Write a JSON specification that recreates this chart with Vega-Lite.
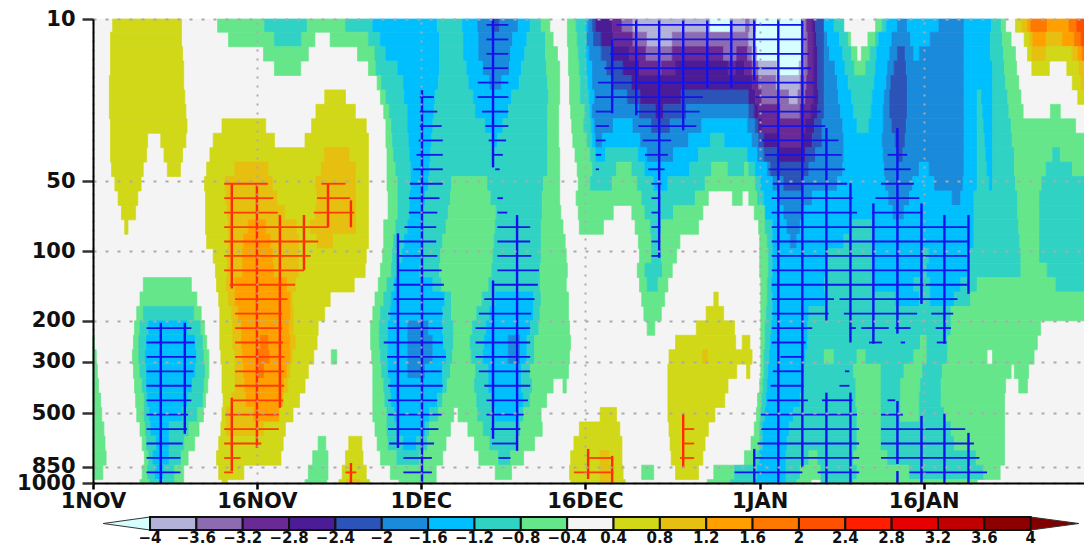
{"$schema":"https://vega.github.io/schema/vega-lite/v6.json","background":"white","padding":{"left":0,"top":8,"right":0,"bottom":0},"spacing":4,"config":{"view":{"stroke":null},"font":"DejaVu Sans"},
"datasets":{
"bands":[{"j":0,"p":10,"q":11.4,"c":10.6},{"j":1,"p":11.4,"q":13.16,"c":12.25},{"j":2,"p":13.16,"q":15.18,"c":14.13},{"j":3,"p":15.18,"q":17.52,"c":16.3},{"j":4,"p":17.52,"q":20.22,"c":18.8},{"j":5,"p":20.22,"q":23.33,"c":21.7},{"j":6,"p":23.33,"q":26.93,"c":25.07},{"j":7,"p":26.93,"q":31.08,"c":28.93},{"j":8,"p":31.08,"q":35.86,"c":33.38},{"j":9,"p":35.86,"q":41.38,"c":38.5},{"j":10,"p":41.38,"q":47.76,"c":44.45},{"j":11,"p":47.76,"q":55.11,"c":51.3},{"j":12,"p":55.11,"q":63.6,"c":59.2},{"j":13,"p":63.6,"q":73.4,"c":68.3},{"j":14,"p":73.4,"q":84.7,"c":78.85},{"j":15,"p":84.7,"q":97.7,"c":91},{"j":16,"p":97.7,"q":112.8,"c":105},{"j":17,"p":112.8,"q":130.2,"c":121.2},{"j":18,"p":130.2,"q":150.2,"c":139.8},{"j":19,"p":150.2,"q":173.3,"c":161.3},{"j":20,"p":173.3,"q":200,"c":186.2},{"j":21,"p":200,"q":230.8,"c":214.8},{"j":22,"p":230.8,"q":266.4,"c":248},{"j":23,"p":266.4,"q":307.4,"c":286},{"j":24,"p":307.4,"q":354.7,"c":330},{"j":25,"p":354.7,"q":409.4,"c":381},{"j":26,"p":409.4,"q":472.4,"c":440},{"j":27,"p":472.4,"q":545.2,"c":507.5},{"j":28,"p":545.2,"q":629.1,"c":585.6},{"j":29,"p":629.1,"q":726,"c":675.8},{"j":30,"p":726,"q":837.8,"c":780},{"j":31,"p":837.8,"q":966.8,"c":900},{"j":32,"p":966.8,"q":1000,"c":983}],
"cells":[
{"j":0,"a":1.8,"b":8.1,"v":0.6},{"j":0,"a":11.4,"b":15.7,"v":-0.6},{"j":0,"a":15.7,"b":19.6,"v":-1},{"j":0,"a":19.6,"b":23.1,"v":-0.6},{"j":0,"a":23.1,"b":25.6,"v":-1},{"j":0,"a":25.6,"b":31.5,"v":-1.4},{"j":0,"a":31.5,"b":33.8,"v":-1},{"j":0,"a":33.8,"b":35.2,"v":-1.4},{"j":0,"a":35.2,"b":36.5,"v":-1.8},{"j":0,"a":36.5,"b":37.2,"v":-2.2},{"j":0,"a":37.2,"b":38.9,"v":-1.8},{"j":0,"a":38.9,"b":40,"v":-1.4},{"j":0,"a":40,"b":41,"v":-1},{"j":0,"a":41,"b":41.8,"v":-0.6},{"j":0,"a":43.4,"b":44.2,"v":-0.6},{"j":0,"a":44.2,"b":45.1,"v":-1},{"j":0,"a":45.1,"b":45.3,"v":-1.4},{"j":0,"a":45.3,"b":45.7,"v":-1.8},{"j":0,"a":45.7,"b":46,"v":-2.2},{"j":0,"a":46,"b":47.5,"v":-2.6},{"j":0,"a":47.5,"b":48.4,"v":-3},{"j":0,"a":48.4,"b":49.4,"v":-3.4},{"j":0,"a":49.4,"b":56.5,"v":-3.8},{"j":0,"a":56.5,"b":58.3,"v":-4.2},{"j":0,"a":58.3,"b":59.7,"v":-3.8},{"j":0,"a":59.7,"b":60.1,"v":-3.4},{"j":0,"a":60.1,"b":60.7,"v":-3.8},{"j":0,"a":60.7,"b":64.8,"v":-4.2},{"j":0,"a":64.8,"b":65.1,"v":-3.8},{"j":0,"a":65.1,"b":65.3,"v":-3.4},{"j":0,"a":65.3,"b":65.8,"v":-3},{"j":0,"a":65.8,"b":66.1,"v":-2.6},{"j":0,"a":66.1,"b":66.9,"v":-2.2},{"j":0,"a":66.9,"b":67.8,"v":-1.4},{"j":0,"a":67.8,"b":68.7,"v":-1},{"j":0,"a":71.6,"b":72.2,"v":-0.6},{"j":0,"a":72.2,"b":72.6,"v":-1},{"j":0,"a":72.6,"b":73.6,"v":-1.4},{"j":0,"a":73.6,"b":74.5,"v":-1.8},{"j":0,"a":74.5,"b":77.4,"v":-1.4},{"j":0,"a":77.4,"b":79.7,"v":-1.8},{"j":0,"a":79.7,"b":82.2,"v":-1.4},{"j":0,"a":82.2,"b":83.1,"v":-1},{"j":0,"a":83.1,"b":83.5,"v":-0.6},{"j":0,"a":84.4,"b":85,"v":0.6},{"j":0,"a":85,"b":85.5,"v":1},{"j":0,"a":85.5,"b":85.8,"v":1.4},{"j":0,"a":85.8,"b":87.3,"v":1.8},{"j":0,"a":87.3,"b":89.3,"v":1.4},{"j":0,"a":89.3,"b":90,"v":1.8},{"j":0,"a":90,"b":90.67,"v":2.2},
{"j":1,"a":1.6,"b":8.1,"v":0.6},{"j":1,"a":12.4,"b":16.6,"v":-0.6},{"j":1,"a":16.6,"b":19.1,"v":-1},{"j":1,"a":19.1,"b":20.3,"v":-0.6},{"j":1,"a":21.7,"b":25.2,"v":-0.6},{"j":1,"a":25.2,"b":26.3,"v":-1},{"j":1,"a":26.3,"b":31.7,"v":-1.4},{"j":1,"a":31.7,"b":33.9,"v":-1},{"j":1,"a":33.9,"b":35.3,"v":-1.4},{"j":1,"a":35.3,"b":38.4,"v":-1.8},{"j":1,"a":38.4,"b":39.7,"v":-1.4},{"j":1,"a":39.7,"b":41.4,"v":-1},{"j":1,"a":41.4,"b":42.1,"v":-0.6},{"j":1,"a":43.4,"b":44.3,"v":-0.6},{"j":1,"a":44.3,"b":45.2,"v":-1},{"j":1,"a":45.2,"b":45.8,"v":-1.8},{"j":1,"a":45.8,"b":46.5,"v":-2.2},{"j":1,"a":46.5,"b":47.6,"v":-2.6},{"j":1,"a":47.6,"b":49.4,"v":-3},{"j":1,"a":49.4,"b":50.7,"v":-3.4},{"j":1,"a":50.7,"b":53,"v":-3.8},{"j":1,"a":53,"b":60,"v":-3.4},{"j":1,"a":60,"b":60.6,"v":-3.8},{"j":1,"a":60.6,"b":64.8,"v":-4.2},{"j":1,"a":64.8,"b":65.1,"v":-3.8},{"j":1,"a":65.1,"b":65.4,"v":-3.4},{"j":1,"a":65.4,"b":65.9,"v":-3},{"j":1,"a":65.9,"b":66.2,"v":-2.6},{"j":1,"a":66.2,"b":66.9,"v":-2.2},{"j":1,"a":66.9,"b":67.2,"v":-1.8},{"j":1,"a":67.2,"b":68.3,"v":-1.4},{"j":1,"a":68.3,"b":69.1,"v":-1},{"j":1,"a":69.1,"b":69.3,"v":-0.6},{"j":1,"a":70.9,"b":71.6,"v":-0.6},{"j":1,"a":71.6,"b":71.9,"v":-1},{"j":1,"a":71.9,"b":73.1,"v":-1.4},{"j":1,"a":73.1,"b":74.8,"v":-1.8},{"j":1,"a":74.8,"b":76.6,"v":-1.4},{"j":1,"a":76.6,"b":79.7,"v":-1.8},{"j":1,"a":79.7,"b":82.1,"v":-1.4},{"j":1,"a":82.1,"b":83.2,"v":-1},{"j":1,"a":83.2,"b":84,"v":-0.6},{"j":1,"a":85.2,"b":85.7,"v":0.6},{"j":1,"a":85.7,"b":86,"v":1},{"j":1,"a":86,"b":87.2,"v":1.4},{"j":1,"a":87.2,"b":88.7,"v":1},{"j":1,"a":88.7,"b":89.8,"v":1.4},{"j":1,"a":89.8,"b":90.4,"v":1.8},{"j":1,"a":90.4,"b":90.67,"v":2.2},
{"j":2,"a":1.6,"b":8.2,"v":0.6},{"j":2,"a":15.6,"b":19.7,"v":-0.6},{"j":2,"a":24.2,"b":25.8,"v":-0.6},{"j":2,"a":25.8,"b":26.8,"v":-1},{"j":2,"a":26.8,"b":31.7,"v":-1.4},{"j":2,"a":31.7,"b":33.9,"v":-1},{"j":2,"a":33.9,"b":35.3,"v":-1.4},{"j":2,"a":35.3,"b":38.2,"v":-1.8},{"j":2,"a":38.2,"b":39.5,"v":-1.4},{"j":2,"a":39.5,"b":41.4,"v":-1},{"j":2,"a":41.4,"b":42.5,"v":-0.6},{"j":2,"a":43.5,"b":44.4,"v":-0.6},{"j":2,"a":44.4,"b":45.1,"v":-1},{"j":2,"a":45.1,"b":45.4,"v":-1.4},{"j":2,"a":45.4,"b":46.5,"v":-1.8},{"j":2,"a":46.5,"b":47.5,"v":-2.2},{"j":2,"a":47.5,"b":49.1,"v":-2.6},{"j":2,"a":49.1,"b":50.6,"v":-3},{"j":2,"a":50.6,"b":53,"v":-3.4},{"j":2,"a":53,"b":57.7,"v":-3},{"j":2,"a":57.7,"b":58.9,"v":-3.4},{"j":2,"a":58.9,"b":59.9,"v":-3},{"j":2,"a":59.9,"b":60.3,"v":-3.4},{"j":2,"a":60.3,"b":60.8,"v":-3.8},{"j":2,"a":60.8,"b":64.8,"v":-4.2},{"j":2,"a":64.8,"b":65.1,"v":-3.8},{"j":2,"a":65.1,"b":65.4,"v":-3.4},{"j":2,"a":65.4,"b":65.9,"v":-3},{"j":2,"a":65.9,"b":66.3,"v":-2.6},{"j":2,"a":66.3,"b":66.9,"v":-2.2},{"j":2,"a":66.9,"b":67.4,"v":-1.8},{"j":2,"a":67.4,"b":68.6,"v":-1.4},{"j":2,"a":68.6,"b":69.4,"v":-1},{"j":2,"a":69.4,"b":69.9,"v":-0.6},{"j":2,"a":70.3,"b":71.1,"v":-0.6},{"j":2,"a":71.1,"b":71.7,"v":-1},{"j":2,"a":71.7,"b":72.9,"v":-1.4},{"j":2,"a":72.9,"b":73.6,"v":-1.8},{"j":2,"a":73.6,"b":74.3,"v":-2.2},{"j":2,"a":74.3,"b":75.1,"v":-1.8},{"j":2,"a":75.1,"b":75.6,"v":-1.4},{"j":2,"a":75.6,"b":79.7,"v":-1.8},{"j":2,"a":79.7,"b":82.1,"v":-1.4},{"j":2,"a":82.1,"b":83.3,"v":-1},{"j":2,"a":83.3,"b":84.4,"v":-0.6},{"j":2,"a":85.5,"b":85.9,"v":0.6},{"j":2,"a":85.9,"b":87.2,"v":1},{"j":2,"a":87.2,"b":89.6,"v":0.6},{"j":2,"a":89.6,"b":90.1,"v":1},{"j":2,"a":90.1,"b":90.5,"v":1.4},{"j":2,"a":90.5,"b":90.67,"v":1.8},
{"j":3,"a":1.6,"b":8.3,"v":0.6},{"j":3,"a":16.6,"b":19,"v":-0.6},{"j":3,"a":25.2,"b":25.9,"v":-0.6},{"j":3,"a":25.9,"b":27.9,"v":-1},{"j":3,"a":27.9,"b":31.7,"v":-1.4},{"j":3,"a":31.7,"b":34.2,"v":-1},{"j":3,"a":34.2,"b":35.7,"v":-1.4},{"j":3,"a":35.7,"b":38.1,"v":-1.8},{"j":3,"a":38.1,"b":39.2,"v":-1.4},{"j":3,"a":39.2,"b":41.5,"v":-1},{"j":3,"a":41.5,"b":42.7,"v":-0.6},{"j":3,"a":43.5,"b":44.5,"v":-0.6},{"j":3,"a":44.5,"b":45.2,"v":-1},{"j":3,"a":45.2,"b":45.7,"v":-1.4},{"j":3,"a":45.7,"b":47,"v":-1.8},{"j":3,"a":47,"b":48.5,"v":-2.2},{"j":3,"a":48.5,"b":50,"v":-2.6},{"j":3,"a":50,"b":51.8,"v":-3},{"j":3,"a":51.8,"b":52,"v":-3.4},{"j":3,"a":52,"b":53.3,"v":-3},{"j":3,"a":53.3,"b":58.1,"v":-2.6},{"j":3,"a":58.1,"b":58.8,"v":-3},{"j":3,"a":58.8,"b":59.6,"v":-2.6},{"j":3,"a":59.6,"b":60.3,"v":-3},{"j":3,"a":60.3,"b":60.9,"v":-3.4},{"j":3,"a":60.9,"b":62.6,"v":-3.8},{"j":3,"a":62.6,"b":64.6,"v":-4.2},{"j":3,"a":64.6,"b":65.1,"v":-3.8},{"j":3,"a":65.1,"b":65.4,"v":-3.4},{"j":3,"a":65.4,"b":65.9,"v":-3},{"j":3,"a":65.9,"b":66.3,"v":-2.6},{"j":3,"a":66.3,"b":66.9,"v":-2.2},{"j":3,"a":66.9,"b":67.9,"v":-1.8},{"j":3,"a":67.9,"b":68.8,"v":-1.4},{"j":3,"a":68.8,"b":69.7,"v":-1},{"j":3,"a":69.7,"b":70.7,"v":-0.6},{"j":3,"a":70.7,"b":71.6,"v":-1},{"j":3,"a":71.6,"b":72.7,"v":-1.4},{"j":3,"a":72.7,"b":73.3,"v":-1.8},{"j":3,"a":73.3,"b":74.4,"v":-2.2},{"j":3,"a":74.4,"b":79.7,"v":-1.8},{"j":3,"a":79.7,"b":82.3,"v":-1.4},{"j":3,"a":82.3,"b":83.4,"v":-1},{"j":3,"a":83.4,"b":84.5,"v":-0.6},{"j":3,"a":85.9,"b":87.5,"v":0.6},{"j":3,"a":89.1,"b":90.2,"v":0.6},{"j":3,"a":90.2,"b":90.67,"v":1},
{"j":4,"a":1.5,"b":8.3,"v":0.6},{"j":4,"a":26,"b":26.4,"v":-0.6},{"j":4,"a":26.4,"b":28.4,"v":-1},{"j":4,"a":28.4,"b":31.6,"v":-1.4},{"j":4,"a":31.6,"b":34.4,"v":-1},{"j":4,"a":34.4,"b":36.3,"v":-1.4},{"j":4,"a":36.3,"b":37.4,"v":-1.8},{"j":4,"a":37.4,"b":39,"v":-1.4},{"j":4,"a":39,"b":41.6,"v":-1},{"j":4,"a":41.6,"b":42.7,"v":-0.6},{"j":4,"a":43.6,"b":44.6,"v":-0.6},{"j":4,"a":44.6,"b":45.3,"v":-1},{"j":4,"a":45.3,"b":45.7,"v":-1.4},{"j":4,"a":45.7,"b":47.5,"v":-1.8},{"j":4,"a":47.5,"b":49.3,"v":-2.2},{"j":4,"a":49.3,"b":60.3,"v":-2.6},{"j":4,"a":60.3,"b":60.9,"v":-3},{"j":4,"a":60.9,"b":62.5,"v":-3.4},{"j":4,"a":62.5,"b":64.7,"v":-3.8},{"j":4,"a":64.7,"b":65.3,"v":-3.4},{"j":4,"a":65.3,"b":65.9,"v":-3},{"j":4,"a":65.9,"b":66.3,"v":-2.6},{"j":4,"a":66.3,"b":66.9,"v":-2.2},{"j":4,"a":66.9,"b":68.1,"v":-1.8},{"j":4,"a":68.1,"b":69.1,"v":-1.4},{"j":4,"a":69.1,"b":71.5,"v":-1},{"j":4,"a":71.5,"b":72.6,"v":-1.4},{"j":4,"a":72.6,"b":73,"v":-1.8},{"j":4,"a":73,"b":74.5,"v":-2.2},{"j":4,"a":74.5,"b":79.7,"v":-1.8},{"j":4,"a":79.7,"b":82.3,"v":-1.4},{"j":4,"a":82.3,"b":83.5,"v":-1},{"j":4,"a":83.5,"b":84.7,"v":-0.6},{"j":4,"a":89.6,"b":90.4,"v":0.6},{"j":4,"a":90.4,"b":90.67,"v":1},
{"j":5,"a":1.5,"b":8.4,"v":0.6},{"j":5,"a":21.2,"b":23.1,"v":0.6},{"j":5,"a":26.3,"b":26.8,"v":-0.6},{"j":5,"a":26.8,"b":28.5,"v":-1},{"j":5,"a":28.5,"b":31.3,"v":-1.4},{"j":5,"a":31.3,"b":34.8,"v":-1},{"j":5,"a":34.8,"b":38.3,"v":-1.4},{"j":5,"a":38.3,"b":41.7,"v":-1},{"j":5,"a":41.7,"b":42.7,"v":-0.6},{"j":5,"a":43.6,"b":44.6,"v":-0.6},{"j":5,"a":44.6,"b":45.4,"v":-1},{"j":5,"a":45.4,"b":45.9,"v":-1.4},{"j":5,"a":45.9,"b":48.9,"v":-1.8},{"j":5,"a":48.9,"b":50.1,"v":-2.2},{"j":5,"a":50.1,"b":53.8,"v":-2.6},{"j":5,"a":53.8,"b":60,"v":-2.2},{"j":5,"a":60,"b":60.6,"v":-2.6},{"j":5,"a":60.6,"b":61.2,"v":-3},{"j":5,"a":61.2,"b":63.7,"v":-3.4},{"j":5,"a":63.7,"b":64.5,"v":-3.8},{"j":5,"a":64.5,"b":65.2,"v":-3.4},{"j":5,"a":65.2,"b":65.9,"v":-3},{"j":5,"a":65.9,"b":66.4,"v":-2.6},{"j":5,"a":66.4,"b":66.9,"v":-2.2},{"j":5,"a":66.9,"b":68.2,"v":-1.8},{"j":5,"a":68.2,"b":69.4,"v":-1.4},{"j":5,"a":69.4,"b":71.3,"v":-1},{"j":5,"a":71.3,"b":72.4,"v":-1.4},{"j":5,"a":72.4,"b":72.9,"v":-1.8},{"j":5,"a":72.9,"b":74.5,"v":-2.2},{"j":5,"a":74.5,"b":79.7,"v":-1.8},{"j":5,"a":79.7,"b":80.9,"v":-1.4},{"j":5,"a":80.9,"b":81.3,"v":-1},{"j":5,"a":81.3,"b":82.3,"v":-1.4},{"j":5,"a":82.3,"b":83.7,"v":-1},{"j":5,"a":83.7,"b":84.9,"v":-0.6},{"j":5,"a":90.1,"b":90.67,"v":0.6},
{"j":6,"a":1.5,"b":8.5,"v":0.6},{"j":6,"a":20.4,"b":24,"v":0.6},{"j":6,"a":26.6,"b":27.1,"v":-0.6},{"j":6,"a":27.1,"b":28.8,"v":-1},{"j":6,"a":28.8,"b":31.2,"v":-1.4},{"j":6,"a":31.2,"b":35,"v":-1},{"j":6,"a":35,"b":38,"v":-1.4},{"j":6,"a":38,"b":41.6,"v":-1},{"j":6,"a":41.6,"b":42.6,"v":-0.6},{"j":6,"a":43.7,"b":45,"v":-0.6},{"j":6,"a":45,"b":45.5,"v":-1},{"j":6,"a":45.5,"b":45.7,"v":-1.4},{"j":6,"a":45.7,"b":50,"v":-1.8},{"j":6,"a":50,"b":51.5,"v":-2.2},{"j":6,"a":51.5,"b":52.2,"v":-2.6},{"j":6,"a":52.2,"b":54.3,"v":-2.2},{"j":6,"a":54.3,"b":60,"v":-1.8},{"j":6,"a":60,"b":60.5,"v":-2.2},{"j":6,"a":60.5,"b":60.9,"v":-2.6},{"j":6,"a":60.9,"b":62.9,"v":-3},{"j":6,"a":62.9,"b":64.7,"v":-3.4},{"j":6,"a":64.7,"b":65.7,"v":-3},{"j":6,"a":65.7,"b":66.3,"v":-2.6},{"j":6,"a":66.3,"b":66.9,"v":-2.2},{"j":6,"a":66.9,"b":68.4,"v":-1.8},{"j":6,"a":68.4,"b":69.6,"v":-1.4},{"j":6,"a":69.6,"b":71.2,"v":-1},{"j":6,"a":71.2,"b":72.3,"v":-1.4},{"j":6,"a":72.3,"b":72.9,"v":-1.8},{"j":6,"a":72.9,"b":74.5,"v":-2.2},{"j":6,"a":74.5,"b":79.7,"v":-1.8},{"j":6,"a":79.7,"b":80.9,"v":-1.4},{"j":6,"a":80.9,"b":81.4,"v":-1},{"j":6,"a":81.4,"b":82.3,"v":-1.4},{"j":6,"a":82.3,"b":83.8,"v":-1},{"j":6,"a":83.8,"b":85.1,"v":-0.6},{"j":6,"a":87.6,"b":88.5,"v":-0.6},
{"j":7,"a":1.6,"b":8.6,"v":0.6},{"j":7,"a":11.8,"b":15.8,"v":0.6},{"j":7,"a":20,"b":25,"v":0.6},{"j":7,"a":26.8,"b":27.3,"v":-0.6},{"j":7,"a":27.3,"b":28.8,"v":-1},{"j":7,"a":28.8,"b":31.1,"v":-1.4},{"j":7,"a":31.1,"b":35.9,"v":-1},{"j":7,"a":35.9,"b":37.5,"v":-1.4},{"j":7,"a":37.5,"b":41.6,"v":-1},{"j":7,"a":41.6,"b":42.6,"v":-0.6},{"j":7,"a":43.8,"b":44.9,"v":-0.6},{"j":7,"a":44.9,"b":45.6,"v":-1},{"j":7,"a":45.6,"b":45.9,"v":-1.4},{"j":7,"a":45.9,"b":47.6,"v":-1.8},{"j":7,"a":47.6,"b":49.4,"v":-1.4},{"j":7,"a":49.4,"b":51.1,"v":-1.8},{"j":7,"a":51.1,"b":52.8,"v":-2.2},{"j":7,"a":52.8,"b":55.7,"v":-1.8},{"j":7,"a":55.7,"b":59,"v":-1.4},{"j":7,"a":59,"b":59.9,"v":-1.4},{"j":7,"a":59.9,"b":60.6,"v":-1.8},{"j":7,"a":60.6,"b":60.9,"v":-2.2},{"j":7,"a":60.9,"b":61.2,"v":-2.6},{"j":7,"a":61.2,"b":65.2,"v":-3},{"j":7,"a":65.2,"b":66,"v":-2.6},{"j":7,"a":66,"b":66.7,"v":-2.2},{"j":7,"a":66.7,"b":68.6,"v":-1.8},{"j":7,"a":68.6,"b":69.9,"v":-1.4},{"j":7,"a":69.9,"b":71,"v":-1},{"j":7,"a":71,"b":72.3,"v":-1.4},{"j":7,"a":72.3,"b":73.1,"v":-1.8},{"j":7,"a":73.1,"b":74.4,"v":-2.2},{"j":7,"a":74.4,"b":79.7,"v":-1.8},{"j":7,"a":79.7,"b":80.9,"v":-1.4},{"j":7,"a":80.9,"b":81.5,"v":-1},{"j":7,"a":81.5,"b":82.3,"v":-1.4},{"j":7,"a":82.3,"b":84,"v":-1},{"j":7,"a":84,"b":89.9,"v":-0.6},
{"j":8,"a":1.6,"b":5,"v":0.6},{"j":8,"a":6.2,"b":8.5,"v":0.6},{"j":8,"a":11,"b":16.6,"v":0.6},{"j":8,"a":19.4,"b":25.2,"v":0.6},{"j":8,"a":26.8,"b":27.4,"v":-0.6},{"j":8,"a":27.4,"b":28.9,"v":-1},{"j":8,"a":28.9,"b":31,"v":-1.4},{"j":8,"a":31,"b":36.5,"v":-1},{"j":8,"a":36.5,"b":37,"v":-1.4},{"j":8,"a":37,"b":41.6,"v":-1},{"j":8,"a":41.6,"b":42.6,"v":-0.6},{"j":8,"a":43.9,"b":45.2,"v":-0.6},{"j":8,"a":45.2,"b":45.7,"v":-1},{"j":8,"a":45.7,"b":46,"v":-1.4},{"j":8,"a":46,"b":46.6,"v":-1.8},{"j":8,"a":46.6,"b":50.1,"v":-1.4},{"j":8,"a":50.1,"b":54.5,"v":-1.8},{"j":8,"a":54.5,"b":56.5,"v":-1.4},{"j":8,"a":56.5,"b":57.8,"v":-1},{"j":8,"a":57.8,"b":60.3,"v":-1.4},{"j":8,"a":60.3,"b":60.9,"v":-1.8},{"j":8,"a":60.9,"b":61.4,"v":-2.2},{"j":8,"a":61.4,"b":62.6,"v":-2.6},{"j":8,"a":62.6,"b":64.9,"v":-3},{"j":8,"a":64.9,"b":65.8,"v":-2.6},{"j":8,"a":65.8,"b":66.7,"v":-2.2},{"j":8,"a":66.7,"b":68.7,"v":-1.8},{"j":8,"a":68.7,"b":72.2,"v":-1.4},{"j":8,"a":72.2,"b":73.4,"v":-1.8},{"j":8,"a":73.4,"b":74.3,"v":-2.2},{"j":8,"a":74.3,"b":79.7,"v":-1.8},{"j":8,"a":79.7,"b":80.9,"v":-1.4},{"j":8,"a":80.9,"b":81.6,"v":-1},{"j":8,"a":81.6,"b":82.3,"v":-1.4},{"j":8,"a":82.3,"b":84.1,"v":-1},{"j":8,"a":84.1,"b":90.67,"v":-0.6},
{"j":9,"a":1.6,"b":4.9,"v":0.6},{"j":9,"a":6.5,"b":8.2,"v":0.6},{"j":9,"a":10.7,"b":25.2,"v":0.6},{"j":9,"a":21.2,"b":23.4,"v":1},{"j":9,"a":26.9,"b":27.5,"v":-0.6},{"j":9,"a":27.5,"b":29,"v":-1},{"j":9,"a":29,"b":30.9,"v":-1.4},{"j":9,"a":30.9,"b":41.6,"v":-1},{"j":9,"a":41.6,"b":42.7,"v":-0.6},{"j":9,"a":44.1,"b":45.5,"v":-0.6},{"j":9,"a":45.5,"b":46,"v":-1},{"j":9,"a":46,"b":46.9,"v":-1.4},{"j":9,"a":46.9,"b":49.9,"v":-1},{"j":9,"a":49.9,"b":50.7,"v":-1.4},{"j":9,"a":50.7,"b":53.1,"v":-1.8},{"j":9,"a":53.1,"b":55.4,"v":-1.4},{"j":9,"a":55.4,"b":59.9,"v":-1},{"j":9,"a":59.9,"b":60.8,"v":-1.4},{"j":9,"a":60.8,"b":61.4,"v":-1.8},{"j":9,"a":61.4,"b":62.8,"v":-2.2},{"j":9,"a":62.8,"b":65.2,"v":-2.6},{"j":9,"a":65.2,"b":66.1,"v":-2.2},{"j":9,"a":66.1,"b":68.7,"v":-1.8},{"j":9,"a":68.7,"b":72.3,"v":-1.4},{"j":9,"a":72.3,"b":73.7,"v":-1.8},{"j":9,"a":73.7,"b":74.1,"v":-2.2},{"j":9,"a":74.1,"b":79.7,"v":-1.8},{"j":9,"a":79.7,"b":80.9,"v":-1.4},{"j":9,"a":80.9,"b":81.7,"v":-1},{"j":9,"a":81.7,"b":82.3,"v":-1.4},{"j":9,"a":82.3,"b":84.3,"v":-1},{"j":9,"a":84.3,"b":87.8,"v":-0.6},{"j":9,"a":87.8,"b":88.5,"v":-1},{"j":9,"a":88.5,"b":90.67,"v":-0.6},
{"j":10,"a":1.7,"b":4.6,"v":0.6},{"j":10,"a":6.8,"b":8,"v":0.6},{"j":10,"a":10.4,"b":25.2,"v":0.6},{"j":10,"a":13,"b":16,"v":1},{"j":10,"a":20.9,"b":24,"v":1},{"j":10,"a":26.9,"b":27.7,"v":-0.6},{"j":10,"a":27.7,"b":29.1,"v":-1},{"j":10,"a":29.1,"b":30.8,"v":-1.4},{"j":10,"a":30.8,"b":41.6,"v":-1},{"j":10,"a":41.6,"b":42.7,"v":-0.6},{"j":10,"a":44.3,"b":45.7,"v":-0.6},{"j":10,"a":45.7,"b":47.9,"v":-1},{"j":10,"a":47.9,"b":49.3,"v":-0.6},{"j":10,"a":49.3,"b":50.5,"v":-1},{"j":10,"a":50.5,"b":54.6,"v":-1.4},{"j":10,"a":54.6,"b":56.6,"v":-1},{"j":10,"a":56.6,"b":58.1,"v":-0.6},{"j":10,"a":58.1,"b":59.6,"v":-1},{"j":10,"a":59.6,"b":60,"v":-0.6},{"j":10,"a":60,"b":60.6,"v":-1},{"j":10,"a":60.6,"b":61.7,"v":-1.4},{"j":10,"a":61.7,"b":62,"v":-1.8},{"j":10,"a":62,"b":65.5,"v":-2.2},{"j":10,"a":65.5,"b":68.6,"v":-1.8},{"j":10,"a":68.6,"b":72.4,"v":-1.4},{"j":10,"a":72.4,"b":75.6,"v":-1.8},{"j":10,"a":75.6,"b":76.5,"v":-1.4},{"j":10,"a":76.5,"b":79.7,"v":-1.8},{"j":10,"a":79.7,"b":80.9,"v":-1.4},{"j":10,"a":80.9,"b":81.8,"v":-1},{"j":10,"a":81.8,"b":82.3,"v":-1.4},{"j":10,"a":82.3,"b":84.3,"v":-1},{"j":10,"a":84.3,"b":87.2,"v":-0.6},{"j":10,"a":87.2,"b":89.6,"v":-1},{"j":10,"a":89.6,"b":90.67,"v":-0.6},
{"j":11,"a":2,"b":4.4,"v":0.6},{"j":11,"a":10.2,"b":25.2,"v":0.6},{"j":11,"a":12.1,"b":16.4,"v":1},{"j":11,"a":20.4,"b":24,"v":1},{"j":11,"a":26.9,"b":27.9,"v":-0.6},{"j":11,"a":27.9,"b":29.1,"v":-1},{"j":11,"a":29.1,"b":30.7,"v":-1.4},{"j":11,"a":30.7,"b":32.8,"v":-1},{"j":11,"a":32.8,"b":36.1,"v":-0.6},{"j":11,"a":36.1,"b":41.2,"v":-1},{"j":11,"a":41.2,"b":42.7,"v":-0.6},{"j":11,"a":44.4,"b":45.5,"v":-0.6},{"j":11,"a":45.5,"b":47.5,"v":-1},{"j":11,"a":47.5,"b":49.8,"v":-0.6},{"j":11,"a":49.8,"b":51.3,"v":-1},{"j":11,"a":51.3,"b":52.6,"v":-1.4},{"j":11,"a":52.6,"b":56,"v":-1},{"j":11,"a":56,"b":60.6,"v":-0.6},{"j":11,"a":60.6,"b":61.1,"v":-1},{"j":11,"a":61.1,"b":62.2,"v":-1.4},{"j":11,"a":62.2,"b":63.2,"v":-1.8},{"j":11,"a":63.2,"b":64.9,"v":-2.2},{"j":11,"a":64.9,"b":68.1,"v":-1.8},{"j":11,"a":68.1,"b":72.5,"v":-1.4},{"j":11,"a":72.5,"b":75,"v":-1.8},{"j":11,"a":75,"b":77,"v":-1.4},{"j":11,"a":77,"b":79.6,"v":-1.8},{"j":11,"a":79.6,"b":80.9,"v":-1.4},{"j":11,"a":80.9,"b":82,"v":-1},{"j":11,"a":82,"b":82.3,"v":-1.4},{"j":11,"a":82.3,"b":84.4,"v":-1},{"j":11,"a":84.4,"b":86.8,"v":-0.6},{"j":11,"a":86.8,"b":90.67,"v":-1},
{"j":12,"a":2.3,"b":4.1,"v":0.6},{"j":12,"a":10.3,"b":25.2,"v":0.6},{"j":12,"a":12.2,"b":16.8,"v":1},{"j":12,"a":20.5,"b":24,"v":1},{"j":12,"a":27,"b":27.9,"v":-0.6},{"j":12,"a":27.9,"b":29,"v":-1},{"j":12,"a":29,"b":30.4,"v":-1.4},{"j":12,"a":30.4,"b":32.7,"v":-1},{"j":12,"a":32.7,"b":36.4,"v":-0.6},{"j":12,"a":36.4,"b":41.1,"v":-1},{"j":12,"a":41.1,"b":42.7,"v":-0.6},{"j":12,"a":44.2,"b":50.2,"v":-0.6},{"j":12,"a":50.2,"b":55.1,"v":-1},{"j":12,"a":55.1,"b":56.3,"v":-0.6},{"j":12,"a":58.5,"b":59.4,"v":-0.6},{"j":12,"a":60,"b":60.8,"v":-0.6},{"j":12,"a":60.8,"b":61.4,"v":-1},{"j":12,"a":61.4,"b":62.8,"v":-1.4},{"j":12,"a":62.8,"b":65.8,"v":-1.8},{"j":12,"a":65.8,"b":72.8,"v":-1.4},{"j":12,"a":72.8,"b":74.7,"v":-1.8},{"j":12,"a":74.7,"b":78.6,"v":-1.4},{"j":12,"a":78.6,"b":79.4,"v":-1.8},{"j":12,"a":79.4,"b":80.6,"v":-1.4},{"j":12,"a":80.6,"b":84.6,"v":-1},{"j":12,"a":84.6,"b":86.6,"v":-0.6},{"j":12,"a":86.6,"b":90.67,"v":-1},
{"j":13,"a":2.6,"b":3.9,"v":0.6},{"j":13,"a":10.3,"b":25.2,"v":0.6},{"j":13,"a":12.3,"b":17.5,"v":1},{"j":13,"a":20.4,"b":24,"v":1},{"j":13,"a":27,"b":27.9,"v":-0.6},{"j":13,"a":27.9,"b":29,"v":-1},{"j":13,"a":29,"b":30.2,"v":-1.4},{"j":13,"a":30.2,"b":32.5,"v":-1},{"j":13,"a":32.5,"b":36.9,"v":-0.6},{"j":13,"a":36.9,"b":41.1,"v":-1},{"j":13,"a":41.1,"b":42.8,"v":-0.6},{"j":13,"a":44.4,"b":47.6,"v":-0.6},{"j":13,"a":49.3,"b":50.5,"v":-0.6},{"j":13,"a":50.5,"b":53.1,"v":-1},{"j":13,"a":53.1,"b":55.8,"v":-0.6},{"j":13,"a":60.5,"b":61.5,"v":-0.6},{"j":13,"a":61.5,"b":63.2,"v":-1.4},{"j":13,"a":63.2,"b":65,"v":-1.8},{"j":13,"a":65,"b":73.2,"v":-1.4},{"j":13,"a":73.2,"b":74.2,"v":-1.8},{"j":13,"a":74.2,"b":80.6,"v":-1.4},{"j":13,"a":80.6,"b":84.6,"v":-1},{"j":13,"a":84.6,"b":86.6,"v":-0.6},{"j":13,"a":86.6,"b":90.67,"v":-1},
{"j":14,"a":2.9,"b":3.2,"v":0.6},{"j":14,"a":10.3,"b":25.2,"v":0.6},{"j":14,"a":12.4,"b":18.6,"v":1},{"j":14,"a":14.2,"b":15.8,"v":1.4},{"j":14,"a":19.9,"b":24,"v":1},{"j":14,"a":26.6,"b":27.7,"v":-0.6},{"j":14,"a":27.7,"b":28.8,"v":-1},{"j":14,"a":28.8,"b":30.2,"v":-1.4},{"j":14,"a":30.2,"b":32.3,"v":-1},{"j":14,"a":32.3,"b":36.8,"v":-0.6},{"j":14,"a":36.8,"b":41,"v":-1},{"j":14,"a":41,"b":43,"v":-0.6},{"j":14,"a":44.5,"b":46.7,"v":-0.6},{"j":14,"a":49.6,"b":51,"v":-0.6},{"j":14,"a":51,"b":52,"v":-1},{"j":14,"a":52,"b":55.4,"v":-0.6},{"j":14,"a":60.9,"b":61.5,"v":-0.6},{"j":14,"a":61.5,"b":62.2,"v":-1},{"j":14,"a":62.2,"b":63.5,"v":-1.4},{"j":14,"a":63.5,"b":64.7,"v":-1.8},{"j":14,"a":64.7,"b":69.3,"v":-1.4},{"j":14,"a":69.3,"b":71.3,"v":-1},{"j":14,"a":71.3,"b":80.6,"v":-1.4},{"j":14,"a":80.6,"b":84.7,"v":-1},{"j":14,"a":84.7,"b":86.6,"v":-0.6},{"j":14,"a":86.6,"b":90.67,"v":-1},
{"j":15,"a":10.4,"b":25.2,"v":0.6},{"j":15,"a":12.4,"b":18.8,"v":1},{"j":15,"a":13.8,"b":16.2,"v":1.4},{"j":15,"a":20.5,"b":21.9,"v":1},{"j":15,"a":26.6,"b":27.5,"v":-0.6},{"j":15,"a":27.5,"b":28.5,"v":-1},{"j":15,"a":28.5,"b":30.1,"v":-1.4},{"j":15,"a":30.1,"b":32,"v":-1},{"j":15,"a":32,"b":36.7,"v":-0.6},{"j":15,"a":36.7,"b":41,"v":-1},{"j":15,"a":41,"b":43.2,"v":-0.6},{"j":15,"a":49.9,"b":51.1,"v":-0.6},{"j":15,"a":51.1,"b":51.9,"v":-1},{"j":15,"a":51.9,"b":53.7,"v":-0.6},{"j":15,"a":61,"b":61.7,"v":-0.6},{"j":15,"a":61.7,"b":62.2,"v":-1},{"j":15,"a":62.2,"b":63.8,"v":-1.4},{"j":15,"a":63.8,"b":64.4,"v":-1.8},{"j":15,"a":64.4,"b":68.7,"v":-1.4},{"j":15,"a":68.7,"b":71.3,"v":-1},{"j":15,"a":71.3,"b":80.6,"v":-1.4},{"j":15,"a":80.6,"b":84.8,"v":-1},{"j":15,"a":84.8,"b":86.6,"v":-0.6},{"j":15,"a":86.6,"b":90.67,"v":-1},
{"j":16,"a":11,"b":25,"v":0.6},{"j":16,"a":12.3,"b":18.8,"v":1},{"j":16,"a":13.7,"b":16.4,"v":1.4},{"j":16,"a":26.5,"b":27.4,"v":-0.6},{"j":16,"a":27.4,"b":28.3,"v":-1},{"j":16,"a":28.3,"b":30,"v":-1.4},{"j":16,"a":30,"b":31.8,"v":-1},{"j":16,"a":31.8,"b":36.6,"v":-0.6},{"j":16,"a":36.6,"b":41,"v":-1},{"j":16,"a":41,"b":43.3,"v":-0.6},{"j":16,"a":50,"b":51.1,"v":-0.6},{"j":16,"a":51.1,"b":52,"v":-1},{"j":16,"a":52,"b":53.4,"v":-0.6},{"j":16,"a":61,"b":61.8,"v":-0.6},{"j":16,"a":61.8,"b":62.2,"v":-1},{"j":16,"a":62.2,"b":67.2,"v":-1.4},{"j":16,"a":67.2,"b":71.3,"v":-1},{"j":16,"a":71.3,"b":75.7,"v":-1.4},{"j":16,"a":75.7,"b":76.5,"v":-1},{"j":16,"a":76.5,"b":80,"v":-1.4},{"j":16,"a":80,"b":84.9,"v":-1},{"j":16,"a":84.9,"b":86.6,"v":-0.6},{"j":16,"a":86.6,"b":90.67,"v":-1},
{"j":17,"a":11.2,"b":24.9,"v":0.6},{"j":17,"a":12.3,"b":18.8,"v":1},{"j":17,"a":13.7,"b":16.5,"v":1.4},{"j":17,"a":26.3,"b":27.3,"v":-0.6},{"j":17,"a":27.3,"b":28,"v":-1},{"j":17,"a":28,"b":29.9,"v":-1.4},{"j":17,"a":29.9,"b":31.7,"v":-1},{"j":17,"a":31.7,"b":36.5,"v":-0.6},{"j":17,"a":36.5,"b":40.9,"v":-1},{"j":17,"a":40.9,"b":43.4,"v":-0.6},{"j":17,"a":49.8,"b":50.5,"v":-0.6},{"j":17,"a":50.5,"b":52.1,"v":-1},{"j":17,"a":52.1,"b":53,"v":-0.6},{"j":17,"a":61,"b":61.8,"v":-0.6},{"j":17,"a":61.8,"b":62.2,"v":-1},{"j":17,"a":62.2,"b":67.2,"v":-1.4},{"j":17,"a":67.2,"b":71.3,"v":-1},{"j":17,"a":71.3,"b":75.9,"v":-1.4},{"j":17,"a":75.9,"b":76.3,"v":-1},{"j":17,"a":76.3,"b":80,"v":-1.4},{"j":17,"a":80,"b":84.9,"v":-1},{"j":17,"a":84.9,"b":87.3,"v":-0.6},{"j":17,"a":87.3,"b":90.67,"v":-1},
{"j":18,"a":4.6,"b":9,"v":-0.6},{"j":18,"a":11.3,"b":23.9,"v":0.6},{"j":18,"a":12.2,"b":18.5,"v":1},{"j":18,"a":13,"b":17.7,"v":1.4},{"j":18,"a":26.1,"b":26.9,"v":-0.6},{"j":18,"a":26.9,"b":27.6,"v":-1},{"j":18,"a":27.6,"b":31.1,"v":-1.4},{"j":18,"a":31.1,"b":31.9,"v":-1},{"j":18,"a":31.9,"b":36.2,"v":-0.6},{"j":18,"a":36.2,"b":40.9,"v":-1},{"j":18,"a":40.9,"b":43.3,"v":-0.6},{"j":18,"a":50,"b":50.7,"v":-0.6},{"j":18,"a":50.7,"b":51.7,"v":-1},{"j":18,"a":51.7,"b":52.6,"v":-0.6},{"j":18,"a":61.1,"b":61.7,"v":-0.6},{"j":18,"a":61.7,"b":62.1,"v":-1},{"j":18,"a":62.1,"b":66.9,"v":-1.4},{"j":18,"a":66.9,"b":71.5,"v":-1},{"j":18,"a":71.5,"b":75.1,"v":-1.4},{"j":18,"a":75.1,"b":76.6,"v":-1},{"j":18,"a":76.6,"b":79.4,"v":-1.4},{"j":18,"a":79.4,"b":80.9,"v":-1},{"j":18,"a":80.9,"b":88.1,"v":-0.6},{"j":18,"a":88.1,"b":90.67,"v":-1},
{"j":19,"a":4.3,"b":9.5,"v":-0.6},{"j":19,"a":11.5,"b":21.7,"v":0.6},{"j":19,"a":12.4,"b":18.2,"v":1},{"j":19,"a":13,"b":18,"v":1.4},{"j":19,"a":25.8,"b":26.6,"v":-0.6},{"j":19,"a":26.6,"b":27.3,"v":-1},{"j":19,"a":27.3,"b":32.2,"v":-1.4},{"j":19,"a":32.2,"b":32.8,"v":-1},{"j":19,"a":32.8,"b":35.6,"v":-0.6},{"j":19,"a":35.6,"b":36.8,"v":-1},{"j":19,"a":36.8,"b":40.3,"v":-1.4},{"j":19,"a":40.3,"b":41,"v":-1},{"j":19,"a":41,"b":43.5,"v":-0.6},{"j":19,"a":50.2,"b":52.3,"v":-0.6},{"j":19,"a":56.8,"b":57.2,"v":0.6},{"j":19,"a":61.1,"b":61.7,"v":-0.6},{"j":19,"a":61.7,"b":62.2,"v":-1},{"j":19,"a":62.2,"b":67,"v":-1.4},{"j":19,"a":67,"b":73.4,"v":-1},{"j":19,"a":73.4,"b":75.6,"v":-1.4},{"j":19,"a":75.6,"b":76.6,"v":-1},{"j":19,"a":76.6,"b":78.8,"v":-1.4},{"j":19,"a":78.8,"b":80.3,"v":-1},{"j":19,"a":80.3,"b":90.67,"v":-0.6},
{"j":20,"a":4,"b":9.9,"v":-0.6},{"j":20,"a":4.6,"b":9.2,"v":-1},{"j":20,"a":11.6,"b":21.2,"v":0.6},{"j":20,"a":12.7,"b":18.3,"v":1},{"j":20,"a":13.3,"b":18,"v":1.4},{"j":20,"a":25.6,"b":26.3,"v":-0.6},{"j":20,"a":26.3,"b":27.2,"v":-1},{"j":20,"a":27.2,"b":32,"v":-1.4},{"j":20,"a":32,"b":32.8,"v":-1},{"j":20,"a":32.8,"b":35.1,"v":-0.6},{"j":20,"a":35.1,"b":36.3,"v":-1},{"j":20,"a":36.3,"b":40.3,"v":-1.4},{"j":20,"a":40.3,"b":40.9,"v":-1},{"j":20,"a":40.9,"b":43.5,"v":-0.6},{"j":20,"a":50.4,"b":52,"v":-0.6},{"j":20,"a":56.1,"b":57.7,"v":0.6},{"j":20,"a":61.1,"b":61.6,"v":-0.6},{"j":20,"a":61.6,"b":62.2,"v":-1},{"j":20,"a":62.2,"b":65.5,"v":-1.4},{"j":20,"a":65.5,"b":78.5,"v":-1},{"j":20,"a":78.5,"b":90.67,"v":-0.6},
{"j":21,"a":3.8,"b":10.2,"v":-0.6},{"j":21,"a":4.3,"b":9.8,"v":-1},{"j":21,"a":5.1,"b":8.6,"v":-1.4},{"j":21,"a":11.6,"b":20.6,"v":0.6},{"j":21,"a":12.8,"b":18.3,"v":1},{"j":21,"a":13.6,"b":17.9,"v":1.4},{"j":21,"a":25.4,"b":26.2,"v":-0.6},{"j":21,"a":26.2,"b":27,"v":-1},{"j":21,"a":27,"b":28.8,"v":-1.4},{"j":21,"a":28.8,"b":30.7,"v":-1.8},{"j":21,"a":30.7,"b":32,"v":-1.4},{"j":21,"a":32,"b":33,"v":-1},{"j":21,"a":33,"b":34.7,"v":-0.6},{"j":21,"a":34.7,"b":36,"v":-1},{"j":21,"a":36,"b":40,"v":-1.4},{"j":21,"a":40,"b":40.8,"v":-1},{"j":21,"a":40.8,"b":43.6,"v":-0.6},{"j":21,"a":50.7,"b":51.4,"v":-0.6},{"j":21,"a":55.2,"b":58.7,"v":0.6},{"j":21,"a":61.1,"b":61.5,"v":-0.6},{"j":21,"a":61.5,"b":62.1,"v":-1},{"j":21,"a":62.1,"b":65.4,"v":-1.4},{"j":21,"a":65.4,"b":78.5,"v":-1},{"j":21,"a":78.5,"b":86.7,"v":-0.6},
{"j":22,"a":0,"b":0.1,"v":-0.6},{"j":22,"a":3.7,"b":10.4,"v":-0.6},{"j":22,"a":4.2,"b":10,"v":-1},{"j":22,"a":4.9,"b":9.3,"v":-1.4},{"j":22,"a":11.6,"b":20.5,"v":0.6},{"j":22,"a":12.8,"b":18.5,"v":1},{"j":22,"a":13.6,"b":18,"v":1.4},{"j":22,"a":15.3,"b":16,"v":1.8},{"j":22,"a":25.4,"b":26.2,"v":-0.6},{"j":22,"a":26.2,"b":27,"v":-1},{"j":22,"a":27,"b":28.8,"v":-1.4},{"j":22,"a":28.8,"b":31.1,"v":-1.8},{"j":22,"a":31.1,"b":32.1,"v":-1.4},{"j":22,"a":32.1,"b":33,"v":-1},{"j":22,"a":33,"b":34.5,"v":-0.6},{"j":22,"a":34.5,"b":35.8,"v":-1},{"j":22,"a":35.8,"b":38,"v":-1.4},{"j":22,"a":38,"b":39.1,"v":-1.8},{"j":22,"a":39.1,"b":39.7,"v":-1.4},{"j":22,"a":39.7,"b":40.4,"v":-1},{"j":22,"a":40.4,"b":43.7,"v":-0.6},{"j":22,"a":53.3,"b":58.8,"v":0.6},{"j":22,"a":59.4,"b":60.1,"v":0.6},{"j":22,"a":61.1,"b":61.5,"v":-0.6},{"j":22,"a":61.5,"b":62,"v":-1},{"j":22,"a":62,"b":65.4,"v":-1.4},{"j":22,"a":65.4,"b":75.7,"v":-1},{"j":22,"a":75.7,"b":76.3,"v":-0.6},{"j":22,"a":76.3,"b":78.2,"v":-1},{"j":22,"a":78.2,"b":86.4,"v":-0.6},
{"j":23,"a":0,"b":0.3,"v":-0.6},{"j":23,"a":3.6,"b":10.6,"v":-0.6},{"j":23,"a":4.2,"b":10.1,"v":-1},{"j":23,"a":4.8,"b":9.4,"v":-1.4},{"j":23,"a":11.7,"b":20.2,"v":0.6},{"j":23,"a":13,"b":18.2,"v":1},{"j":23,"a":13.7,"b":18,"v":1.4},{"j":23,"a":15,"b":16.1,"v":1.8},{"j":23,"a":21.8,"b":22.3,"v":-0.6},{"j":23,"a":25.5,"b":26.3,"v":-0.6},{"j":23,"a":26.3,"b":27,"v":-1},{"j":23,"a":27,"b":28.8,"v":-1.4},{"j":23,"a":28.8,"b":31.1,"v":-1.8},{"j":23,"a":31.1,"b":32.3,"v":-1.4},{"j":23,"a":32.3,"b":32.9,"v":-1},{"j":23,"a":32.9,"b":34.6,"v":-0.6},{"j":23,"a":34.6,"b":35.7,"v":-1},{"j":23,"a":35.7,"b":38,"v":-1.4},{"j":23,"a":38,"b":39.1,"v":-1.8},{"j":23,"a":39.1,"b":39.7,"v":-1.4},{"j":23,"a":39.7,"b":40.4,"v":-1},{"j":23,"a":40.4,"b":43.6,"v":-0.6},{"j":23,"a":52.7,"b":60.3,"v":0.6},{"j":23,"a":55.8,"b":56.2,"v":1},{"j":23,"a":61.1,"b":61.4,"v":-0.6},{"j":23,"a":61.4,"b":61.9,"v":-1},{"j":23,"a":61.9,"b":65.2,"v":-1.4},{"j":23,"a":65.2,"b":66.9,"v":-1},{"j":23,"a":66.9,"b":67.8,"v":-0.6},{"j":23,"a":67.8,"b":69.9,"v":-1},{"j":23,"a":69.9,"b":70.7,"v":-0.6},{"j":23,"a":70.7,"b":75.1,"v":-1},{"j":23,"a":75.1,"b":76.3,"v":-0.6},{"j":23,"a":76.3,"b":78.2,"v":-1},{"j":23,"a":78.2,"b":81.8,"v":-0.6},{"j":23,"a":82.3,"b":86.1,"v":-0.6},
{"j":24,"a":0,"b":0.4,"v":-0.6},{"j":24,"a":3.7,"b":10.6,"v":-0.6},{"j":24,"a":4.3,"b":10.2,"v":-1},{"j":24,"a":4.9,"b":9.3,"v":-1.4},{"j":24,"a":11.8,"b":19.7,"v":0.6},{"j":24,"a":13,"b":18,"v":1},{"j":24,"a":13.8,"b":17.7,"v":1.4},{"j":24,"a":15,"b":15.6,"v":1.8},{"j":24,"a":25.6,"b":26.4,"v":-0.6},{"j":24,"a":26.4,"b":27,"v":-1},{"j":24,"a":27,"b":28.8,"v":-1.4},{"j":24,"a":28.8,"b":30.4,"v":-1.8},{"j":24,"a":30.4,"b":32,"v":-1.4},{"j":24,"a":32,"b":32.7,"v":-1},{"j":24,"a":32.7,"b":35,"v":-0.6},{"j":24,"a":35,"b":36.2,"v":-1},{"j":24,"a":36.2,"b":39.2,"v":-1.4},{"j":24,"a":39.2,"b":40,"v":-1},{"j":24,"a":40,"b":43.5,"v":-0.6},{"j":24,"a":52.6,"b":58.9,"v":0.6},{"j":24,"a":59.8,"b":60.1,"v":0.6},{"j":24,"a":61.1,"b":61.4,"v":-0.6},{"j":24,"a":61.4,"b":61.8,"v":-1},{"j":24,"a":61.8,"b":65.1,"v":-1.4},{"j":24,"a":65.1,"b":69.6,"v":-1},{"j":24,"a":69.6,"b":72.1,"v":-0.6},{"j":24,"a":72.1,"b":74.2,"v":-1},{"j":24,"a":74.2,"b":75.9,"v":-0.6},{"j":24,"a":75.9,"b":77.7,"v":-1},{"j":24,"a":77.7,"b":84,"v":-0.6},{"j":24,"a":84.3,"b":85.6,"v":-0.6},
{"j":25,"a":0,"b":0.5,"v":-0.6},{"j":25,"a":3.8,"b":10.5,"v":-0.6},{"j":25,"a":4.5,"b":10.1,"v":-1},{"j":25,"a":4.9,"b":9,"v":-1.4},{"j":25,"a":11.8,"b":19.4,"v":0.6},{"j":25,"a":13,"b":17.8,"v":1},{"j":25,"a":13.9,"b":17.4,"v":1.4},{"j":25,"a":25.6,"b":26.6,"v":-0.6},{"j":25,"a":26.6,"b":27.2,"v":-1},{"j":25,"a":27.2,"b":32,"v":-1.4},{"j":25,"a":32,"b":32.4,"v":-1},{"j":25,"a":32.4,"b":34.9,"v":-0.6},{"j":25,"a":34.9,"b":36.2,"v":-1},{"j":25,"a":36.2,"b":39.2,"v":-1.4},{"j":25,"a":39.2,"b":40.2,"v":-1},{"j":25,"a":40.2,"b":42.1,"v":-0.6},{"j":25,"a":43,"b":43.3,"v":-0.6},{"j":25,"a":52.6,"b":58.1,"v":0.6},{"j":25,"a":61,"b":61.3,"v":-0.6},{"j":25,"a":61.3,"b":61.7,"v":-1},{"j":25,"a":61.7,"b":65.1,"v":-1.4},{"j":25,"a":65.1,"b":69.8,"v":-1},{"j":25,"a":69.8,"b":72.1,"v":-0.6},{"j":25,"a":72.1,"b":73.9,"v":-1},{"j":25,"a":73.9,"b":75.7,"v":-0.6},{"j":25,"a":75.7,"b":77.6,"v":-1},{"j":25,"a":77.6,"b":83.5,"v":-0.6},{"j":25,"a":84.7,"b":85.5,"v":-0.6},
{"j":26,"a":0,"b":0.7,"v":-0.6},{"j":26,"a":3.9,"b":10.3,"v":-0.6},{"j":26,"a":4.7,"b":10,"v":-1},{"j":26,"a":5,"b":8.6,"v":-1.4},{"j":26,"a":11.9,"b":18.9,"v":0.6},{"j":26,"a":12.7,"b":17.4,"v":1},{"j":26,"a":14,"b":17.3,"v":1.4},{"j":26,"a":25.6,"b":26.7,"v":-0.6},{"j":26,"a":26.7,"b":27.3,"v":-1},{"j":26,"a":27.3,"b":31.5,"v":-1.4},{"j":26,"a":31.5,"b":32,"v":-1},{"j":26,"a":32,"b":35.1,"v":-0.6},{"j":26,"a":35.1,"b":36.5,"v":-1},{"j":26,"a":36.5,"b":39.4,"v":-1.4},{"j":26,"a":39.4,"b":40,"v":-1},{"j":26,"a":40,"b":41.5,"v":-0.6},{"j":26,"a":52.6,"b":57.8,"v":0.6},{"j":26,"a":60.8,"b":61.2,"v":-0.6},{"j":26,"a":61.2,"b":61.6,"v":-1},{"j":26,"a":61.6,"b":64.7,"v":-1.4},{"j":26,"a":64.7,"b":69.8,"v":-1},{"j":26,"a":69.8,"b":72.1,"v":-0.6},{"j":26,"a":72.1,"b":73.9,"v":-1},{"j":26,"a":73.9,"b":75.6,"v":-0.6},{"j":26,"a":75.6,"b":77.6,"v":-1},{"j":26,"a":77.6,"b":83.4,"v":-0.6},
{"j":27,"a":0,"b":0.8,"v":-0.6},{"j":27,"a":4,"b":10.1,"v":-0.6},{"j":27,"a":4.7,"b":9.5,"v":-1},{"j":27,"a":5.2,"b":8.1,"v":-1.4},{"j":27,"a":11.8,"b":18.3,"v":0.6},{"j":27,"a":12.2,"b":17,"v":1},{"j":27,"a":14.7,"b":17,"v":1.4},{"j":27,"a":25.6,"b":26.9,"v":-0.6},{"j":27,"a":26.9,"b":27.6,"v":-1},{"j":27,"a":27.6,"b":30.8,"v":-1.4},{"j":27,"a":30.8,"b":31.6,"v":-1},{"j":27,"a":31.6,"b":33,"v":-0.6},{"j":27,"a":33.4,"b":35.2,"v":-0.6},{"j":27,"a":35.2,"b":36.8,"v":-1},{"j":27,"a":36.8,"b":39,"v":-1.4},{"j":27,"a":39,"b":39.4,"v":-1},{"j":27,"a":39.4,"b":41,"v":-0.6},{"j":27,"a":46.4,"b":47.9,"v":0.6},{"j":27,"a":52.6,"b":56.9,"v":0.6},{"j":27,"a":60.7,"b":61.1,"v":-0.6},{"j":27,"a":61.1,"b":61.5,"v":-1},{"j":27,"a":61.5,"b":64.1,"v":-1.4},{"j":27,"a":64.1,"b":69.9,"v":-1},{"j":27,"a":69.9,"b":72.1,"v":-0.6},{"j":27,"a":72.1,"b":73.9,"v":-1},{"j":27,"a":73.9,"b":75.6,"v":-0.6},{"j":27,"a":75.6,"b":77.9,"v":-1},{"j":27,"a":77.9,"b":83.4,"v":-0.6},
{"j":28,"a":0,"b":1,"v":-0.6},{"j":28,"a":4.3,"b":9.7,"v":-0.6},{"j":28,"a":4.8,"b":8.7,"v":-1},{"j":28,"a":5.3,"b":6.9,"v":-1.4},{"j":28,"a":11.7,"b":17.6,"v":0.6},{"j":28,"a":12.2,"b":15.6,"v":1},{"j":28,"a":25.8,"b":26.9,"v":-0.6},{"j":28,"a":26.9,"b":27.8,"v":-1},{"j":28,"a":27.8,"b":30.4,"v":-1.4},{"j":28,"a":30.4,"b":30.8,"v":-1},{"j":28,"a":30.8,"b":32.7,"v":-0.6},{"j":28,"a":34.3,"b":35.7,"v":-0.6},{"j":28,"a":35.7,"b":39.1,"v":-1},{"j":28,"a":39.1,"b":41.1,"v":-0.6},{"j":28,"a":44.5,"b":48.2,"v":0.6},{"j":28,"a":52.7,"b":56.3,"v":0.6},{"j":28,"a":60.5,"b":61,"v":-0.6},{"j":28,"a":61,"b":61.3,"v":-1},{"j":28,"a":61.3,"b":63.7,"v":-1.4},{"j":28,"a":63.7,"b":69.9,"v":-1},{"j":28,"a":69.9,"b":72.1,"v":-0.6},{"j":28,"a":72.1,"b":78.5,"v":-1},{"j":28,"a":78.5,"b":83.4,"v":-0.6},
{"j":29,"a":0,"b":1.1,"v":-0.6},{"j":29,"a":4.5,"b":9.3,"v":-0.6},{"j":29,"a":4.9,"b":8.3,"v":-1},{"j":29,"a":5.8,"b":6.9,"v":-1.4},{"j":29,"a":11.5,"b":17.4,"v":0.6},{"j":29,"a":20.6,"b":21.3,"v":-0.6},{"j":29,"a":23.4,"b":24.6,"v":0.6},{"j":29,"a":26,"b":27,"v":-0.6},{"j":29,"a":27,"b":28.4,"v":-1},{"j":29,"a":28.4,"b":29.6,"v":-1.4},{"j":29,"a":29.6,"b":30.6,"v":-1},{"j":29,"a":30.6,"b":32.3,"v":-0.6},{"j":29,"a":34.9,"b":36.3,"v":-0.6},{"j":29,"a":36.3,"b":38.9,"v":-1},{"j":29,"a":38.9,"b":40.4,"v":-0.6},{"j":29,"a":44,"b":48.4,"v":0.6},{"j":29,"a":52.8,"b":56,"v":0.6},{"j":29,"a":60.2,"b":61,"v":-0.6},{"j":29,"a":61,"b":61.3,"v":-1},{"j":29,"a":61.3,"b":63.5,"v":-1.4},{"j":29,"a":63.5,"b":69.9,"v":-1},{"j":29,"a":69.9,"b":72.1,"v":-0.6},{"j":29,"a":72.1,"b":78.8,"v":-1},{"j":29,"a":78.8,"b":83.4,"v":-0.6},
{"j":30,"a":0,"b":1.2,"v":-0.6},{"j":30,"a":4.7,"b":8.7,"v":-0.6},{"j":30,"a":5.1,"b":8,"v":-1},{"j":30,"a":5.5,"b":6.9,"v":-1.4},{"j":30,"a":11.3,"b":17.2,"v":0.6},{"j":30,"a":20.1,"b":21.5,"v":-0.6},{"j":30,"a":23.1,"b":24.7,"v":0.6},{"j":30,"a":26.3,"b":27.8,"v":-0.6},{"j":30,"a":27.8,"b":29.9,"v":-1},{"j":30,"a":29.9,"b":32,"v":-0.6},{"j":30,"a":35.3,"b":37.1,"v":-0.6},{"j":30,"a":37.1,"b":38.2,"v":-1},{"j":30,"a":38.2,"b":39.4,"v":-0.6},{"j":30,"a":43.7,"b":48.4,"v":0.6},{"j":30,"a":46.4,"b":47.2,"v":1},{"j":30,"a":52.9,"b":55.8,"v":0.6},{"j":30,"a":59.6,"b":60.7,"v":-0.6},{"j":30,"a":60.7,"b":61,"v":-1},{"j":30,"a":61,"b":63.4,"v":-1.4},{"j":30,"a":63.4,"b":65.5,"v":-1},{"j":30,"a":65.5,"b":66.3,"v":-0.6},{"j":30,"a":66.3,"b":69.6,"v":-1},{"j":30,"a":69.6,"b":72.7,"v":-0.6},{"j":30,"a":72.7,"b":80.8,"v":-1},{"j":30,"a":80.8,"b":83.4,"v":-0.6},
{"j":31,"a":0,"b":0.9,"v":-0.6},{"j":31,"a":4.5,"b":8.3,"v":-0.6},{"j":31,"a":5,"b":7.4,"v":-1},{"j":31,"a":5.7,"b":6.4,"v":-1.4},{"j":31,"a":11.5,"b":13.8,"v":0.6},{"j":31,"a":19.7,"b":21.5,"v":-0.6},{"j":31,"a":22.8,"b":25,"v":0.6},{"j":31,"a":27.2,"b":31.4,"v":-0.6},{"j":31,"a":36.8,"b":38.3,"v":-0.6},{"j":31,"a":43.6,"b":48.5,"v":0.6},{"j":31,"a":46.4,"b":47.4,"v":1},{"j":31,"a":50.2,"b":51.3,"v":-0.6},{"j":31,"a":53.3,"b":55.4,"v":0.6},{"j":31,"a":56.8,"b":58.7,"v":-0.6},{"j":31,"a":58.7,"b":60.8,"v":-1},{"j":31,"a":60.8,"b":63.4,"v":-1.4},{"j":31,"a":63.4,"b":64.7,"v":-1},{"j":31,"a":64.7,"b":66.6,"v":-0.6},{"j":31,"a":66.6,"b":69.9,"v":-1},{"j":31,"a":69.9,"b":74.7,"v":-0.6},{"j":31,"a":74.7,"b":81.5,"v":-1},{"j":31,"a":81.5,"b":83,"v":-0.6},
{"j":32,"a":4.3,"b":8.3,"v":-0.6},{"j":32,"a":5.2,"b":7.4,"v":-1},{"j":32,"a":11.8,"b":12.3,"v":0.6},{"j":32,"a":19.4,"b":21.4,"v":-0.6},{"j":32,"a":22.5,"b":25.3,"v":0.6},{"j":32,"a":23.2,"b":24.4,"v":1},{"j":32,"a":28,"b":31.4,"v":-0.6},{"j":32,"a":43.7,"b":48.7,"v":0.6},{"j":32,"a":46.4,"b":47.6,"v":1},{"j":32,"a":56.2,"b":58.3,"v":-0.6},{"j":32,"a":58.3,"b":60.5,"v":-1},{"j":32,"a":60.5,"b":63.4,"v":-1.4},{"j":32,"a":63.4,"b":64.4,"v":-1},{"j":32,"a":64.4,"b":65.7,"v":-0.6},{"j":32,"a":66.6,"b":69.6,"v":-1},{"j":32,"a":69.6,"b":80.9,"v":-0.6}
],
"vblue":[{"d":6.2,"p":204,"q":1000},{"d":8.4,"p":204,"q":614},{"d":27.9,"p":84,"q":706},{"d":30.1,"p":20.3,"q":1000},{"d":36.6,"p":10,"q":43.6},{"d":36.6,"p":134,"q":645},{"d":38.8,"p":70,"q":727},{"d":47.5,"p":12.3,"q":25.5},{"d":49.7,"p":10,"q":26},{"d":51.8,"p":10,"q":107},{"d":54,"p":10,"q":30.2},{"d":56.2,"p":10,"q":19.9},{"d":58.4,"p":10,"q":19.9},{"d":60.5,"p":10,"q":18.4},{"d":60.5,"p":713,"q":1000},{"d":62.7,"p":10,"q":1000},{"d":64.9,"p":10,"q":861},{"d":67.1,"p":29.5,"q":200},{"d":67.1,"p":408,"q":1000},{"d":69.3,"p":51,"q":248},{"d":69.3,"p":408,"q":1000},{"d":71.4,"p":62.3,"q":251},{"d":73.6,"p":29.5,"q":227},{"d":73.6,"p":443,"q":828},{"d":73.6,"p":888,"q":1000},{"d":75.8,"p":62.3,"q":169},{"d":75.8,"p":514,"q":1000},{"d":77.9,"p":70,"q":251},{"d":77.9,"p":503,"q":1000},{"d":80.1,"p":70,"q":153},{"d":80.1,"p":608,"q":1000}],
"vred":[{"d":12.7,"p":51,"q":145},{"d":12.7,"p":429,"q":888},{"d":15,"p":51,"q":706},{"d":17.1,"p":70,"q":474},{"d":19.3,"p":70,"q":121},{"d":21.5,"p":51,"q":79},{"d":23.6,"p":60.5,"q":79},{"d":23.6,"p":820,"q":1000},{"d":45.3,"p":713,"q":961},{"d":47.5,"p":764,"q":1000},{"d":54,"p":503,"q":861}],
"hblue":[{"j":21,"a":4.9,"b":9},{"j":22,"a":4.9,"b":9.3},{"j":23,"a":4.9,"b":9.4},{"j":24,"a":4.9,"b":9.2},{"j":25,"a":4.9,"b":9},{"j":26,"a":4.9,"b":9},{"j":27,"a":4.9,"b":8.7},{"j":28,"a":4.9,"b":8.6},{"j":29,"a":4.9,"b":8.2},{"j":30,"a":4.9,"b":8},{"j":31,"a":4.9,"b":8},
{"j":5,"a":29.9,"b":31.2},{"j":6,"a":29.9,"b":31.5},{"j":7,"a":29.9,"b":31.9},{"j":8,"a":29.8,"b":32},{"j":9,"a":29.6,"b":32},{"j":10,"a":29.3,"b":32},{"j":11,"a":29,"b":32},{"j":12,"a":28.9,"b":31.7},{"j":13,"a":28.9,"b":31.5},{"j":14,"a":28.5,"b":31.4},{"j":15,"a":28,"b":31.4},{"j":16,"a":28,"b":31.5},{"j":17,"a":28,"b":31.9},{"j":18,"a":27.5,"b":32.1},{"j":19,"a":27.5,"b":32.1},{"j":20,"a":27,"b":32},{"j":21,"a":27,"b":32},{"j":22,"a":26.6,"b":32},{"j":23,"a":26.9,"b":32.3},{"j":24,"a":27,"b":31.9},{"j":25,"a":27,"b":32},{"j":26,"a":27,"b":31.5},{"j":27,"a":27,"b":31.9},{"j":28,"a":27,"b":31.6},{"j":29,"a":27.1,"b":31.2},{"j":30,"a":28.4,"b":31},{"j":31,"a":28.4,"b":31},
{"j":0,"a":36,"b":38},{"j":1,"a":36,"b":38},{"j":2,"a":36,"b":38},{"j":3,"a":35.7,"b":38},{"j":4,"a":35.2,"b":38},{"j":5,"a":35.2,"b":38},{"j":6,"a":35.6,"b":38},{"j":7,"a":35.9,"b":38},{"j":8,"a":36.2,"b":37.8},{"j":9,"a":36.5,"b":37.5},{"j":10,"a":36.8,"b":37.2},{"j":12,"a":37,"b":37.5},{"j":13,"a":37,"b":37.9},{"j":14,"a":37,"b":40},{"j":15,"a":37,"b":40},{"j":16,"a":37,"b":40.1},{"j":17,"a":37,"b":40.8},{"j":18,"a":36.6,"b":40.7},{"j":19,"a":35.8,"b":40.4},{"j":20,"a":35.3,"b":40.1},{"j":21,"a":35,"b":40},{"j":22,"a":35,"b":40},{"j":23,"a":35,"b":40},{"j":24,"a":35.3,"b":40},{"j":25,"a":35.8,"b":40},{"j":26,"a":36,"b":39.8},{"j":27,"a":36,"b":39.4},{"j":28,"a":36.4,"b":39.1},{"j":29,"a":36.5,"b":38.9},{"j":30,"a":37.1,"b":38.2},
{"j":0,"a":47.9,"b":65},{"j":1,"a":47.6,"b":65.3},{"j":2,"a":47.3,"b":65.5},{"j":3,"a":46.8,"b":65.7},{"j":4,"a":46.2,"b":66},{"j":5,"a":46,"b":55.8},{"j":5,"a":60.6,"b":66.2},{"j":6,"a":46,"b":47.5},{"j":6,"a":49.7,"b":55.5},{"j":6,"a":60.9,"b":66.6},{"j":7,"a":46,"b":47.2},{"j":7,"a":49.9,"b":55.2},{"j":7,"a":61.1,"b":67},{"j":8,"a":46,"b":46.9},{"j":8,"a":50.3,"b":52.9},{"j":8,"a":61.2,"b":68.2},{"j":9,"a":46,"b":46.5},{"j":9,"a":50.5,"b":52.6},{"j":9,"a":61.5,"b":68.5},{"j":9,"a":72.7,"b":74.5},{"j":10,"a":46,"b":46.3},{"j":10,"a":50.8,"b":52.3},{"j":10,"a":61.8,"b":68.8},{"j":10,"a":72.4,"b":74.8},{"j":11,"a":51.1,"b":52},{"j":11,"a":62.2,"b":69},{"j":11,"a":72.1,"b":75.1},{"j":12,"a":51.1,"b":51.9},{"j":12,"a":62.1,"b":69.5},{"j":12,"a":71.6,"b":75.6},{"j":13,"a":51.1,"b":51.9},{"j":13,"a":62.1,"b":69.9},{"j":13,"a":71.3,"b":75.9},{"j":14,"a":51.1,"b":51.9},{"j":14,"a":62.1,"b":80},{"j":15,"a":51.1,"b":51.9},{"j":15,"a":62.1,"b":80},{"j":16,"a":51.1,"b":51.9},{"j":16,"a":62.1,"b":80},{"j":17,"a":62.1,"b":80},{"j":18,"a":62.1,"b":80},{"j":19,"a":62.1,"b":67.8},{"j":19,"a":68.3,"b":79.1},{"j":20,"a":62.1,"b":67.3},{"j":20,"a":68.7,"b":75.4},{"j":20,"a":76.7,"b":78.7},{"j":21,"a":62.1,"b":65.8},{"j":21,"a":69.2,"b":69.8},{"j":21,"a":70.3,"b":72.8},{"j":21,"a":73.4,"b":74.8},{"j":21,"a":77.1,"b":78.5},{"j":22,"a":62.1,"b":65.2},{"j":22,"a":71,"b":72.2},{"j":22,"a":73.9,"b":74.3},{"j":22,"a":77.2,"b":78.1},{"j":23,"a":62.9,"b":65},{"j":24,"a":62.2,"b":65},{"j":24,"a":68.8,"b":69.2},{"j":25,"a":62,"b":65},{"j":25,"a":68.3,"b":69.2},{"j":26,"a":61.7,"b":65.4},{"j":26,"a":66.7,"b":69.5},{"j":26,"a":72.7,"b":73.4},{"j":27,"a":61.1,"b":69.9},{"j":27,"a":72.1,"b":74.1},{"j":28,"a":61.1,"b":70.1},{"j":28,"a":72.1,"b":79.8},{"j":29,"a":60.8,"b":70.1},{"j":29,"a":72.1,"b":80.6},{"j":30,"a":60.5,"b":70.1},{"j":30,"a":72.1,"b":81.1},{"j":31,"a":58.7,"b":64.9},{"j":31,"a":66.3,"b":70.1},{"j":31,"a":74.7,"b":81.8}],
"hred":[{"j":11,"a":12,"b":16},{"j":11,"a":20.9,"b":23.1},{"j":12,"a":12,"b":16.5},{"j":12,"a":20.5,"b":23.5},{"j":13,"a":12,"b":16.9},{"j":13,"a":20.2,"b":23.9},{"j":14,"a":12,"b":21.5},{"j":15,"a":12,"b":20.6},{"j":16,"a":12,"b":19.9},{"j":17,"a":12,"b":19.3},{"j":18,"a":12.5,"b":18.5},{"j":19,"a":13,"b":17.8},{"j":20,"a":13,"b":17.3},{"j":21,"a":13,"b":17.3},{"j":22,"a":13,"b":17.4},{"j":23,"a":13,"b":17.5},{"j":24,"a":13,"b":17.5},{"j":25,"a":13,"b":17.5},{"j":26,"a":12.7,"b":17.4},{"j":27,"a":12.1,"b":17},{"j":28,"a":12,"b":17},{"j":29,"a":12,"b":15.4},{"j":30,"a":12,"b":13.5},{"j":31,"a":12,"b":12.8},{"j":31,"a":23.1,"b":24.1},{"j":28,"a":54,"b":55},{"j":29,"a":54,"b":55},{"j":30,"a":53.7,"b":55},{"j":30,"a":45.3,"b":47.5},{"j":31,"a":44,"b":47.6}],
"boxes":[{"i":0,"k":1,"v":-3.8},{"i":1,"k":2,"v":-3.4},{"i":2,"k":3,"v":-3},{"i":3,"k":4,"v":-2.6},{"i":4,"k":5,"v":-2.2},{"i":5,"k":6,"v":-1.8},{"i":6,"k":7,"v":-1.4},{"i":7,"k":8,"v":-1},{"i":8,"k":9,"v":-0.6},{"i":9,"k":10,"v":0},{"i":10,"k":11,"v":0.6},{"i":11,"k":12,"v":1},{"i":12,"k":13,"v":1.4},{"i":13,"k":14,"v":1.8},{"i":14,"k":15,"v":2.2},{"i":15,"k":16,"v":2.6},{"i":16,"k":17,"v":3},{"i":17,"k":18,"v":3.4},{"i":18,"k":19,"v":3.8}],
"labels":[{"i":0,"t":"−4"},{"i":1,"t":"−3.6"},{"i":2,"t":"−3.2"},{"i":3,"t":"−2.8"},{"i":4,"t":"−2.4"},{"i":5,"t":"−2"},{"i":6,"t":"−1.6"},{"i":7,"t":"−1.2"},{"i":8,"t":"−0.8"},{"i":9,"t":"−0.4"},{"i":10,"t":"0.4"},{"i":11,"t":"0.8"},{"i":12,"t":"1.2"},{"i":13,"t":"1.6"},{"i":14,"t":"2"},{"i":15,"t":"2.4"},{"i":16,"t":"2.8"},{"i":17,"t":"3.2"},{"i":18,"t":"3.6"},{"i":19,"t":"4"}],
"tipLow":[{"i":-1.01,"lo":0.5,"hi":0.5},{"i":0,"lo":0,"hi":1}],
"tipHigh":[{"i":19,"lo":0,"hi":1},{"i":20.04,"lo":0.5,"hi":0.5}]
},
"vconcat":[
{"width":991,"height":464,"view":{"fill":"#f4f4f4","stroke":null},
"layer":[
{"data":{"name":"cells"},"transform":[{"lookup":"j","from":{"data":{"name":"bands"},"key":"j","fields":["p","q"]}}],
"mark":{"type":"rect","strokeWidth":0.7},
"encoding":{
"x":{"field":"a","type":"quantitative","scale":{"domain":[0,90.67],"nice":false,"zero":false},"axis":{"title":null,"values":[0,15,30,45,61,76],"labelExpr":"{'0':'1NOV','15':'16NOV','30':'1DEC','45':'16DEC','61':'1JAN','76':'16JAN'}[datum.value]","labelFont":"DejaVu Sans","labelFontWeight":"bold","labelFontSize":21,"labelColor":"#111","labelPadding":1,"labelFlush":false,"labelOverlap":false,"labelBound":false,"domainColor":"#000","domainWidth":2,"tickColor":"#000","tickWidth":2.5,"tickSize":6,"grid":true,"gridColor":"#aaaaaa","gridWidth":2,"gridDash":[2,7],"zindex":1}},
"x2":{"field":"b"},
"y":{"field":"p","type":"quantitative","scale":{"type":"log","domain":[10,1000],"reverse":true,"nice":false},"axis":{"title":null,"values":[10,50,100,200,300,500,850,1000],"labelExpr":"''+datum.value","labelFont":"DejaVu Sans","labelFontWeight":"bold","labelFontSize":21,"labelColor":"#111","labelPadding":7,"labelOverlap":false,"labelBound":false,"labelFlush":false,"domainColor":"#000","domainWidth":2,"tickColor":"#333","tickWidth":2.5,"tickSize":11,"minExtent":93,"maxExtent":93,"grid":true,"gridColor":"#aaaaaa","gridWidth":2,"gridDash":[3,9],"zindex":1}},
"y2":{"field":"q"},
"fill":{"field":"v","type":"quantitative","legend":null,"scale":{"type":"threshold","domain":[-4,-3.6,-3.2,-2.8,-2.4,-2,-1.6,-1.2,-0.8,-0.4,0.4,0.8,1.2,1.6,2,2.4,2.8,3.2,3.6,4],"range":["#d5ffff","#b3b3d9","#8c6bb1","#6a2a96","#4b1c96","#2b53b8","#1a8adb","#00bfff","#30d2c4","#66e68a","#f4f4f4","#d0d818","#e6bf10","#ffa000","#ff7800","#ff5000","#ff1e00","#e60000","#c00000","#8c0000","#800000"]}},
"stroke":{"field":"v","type":"quantitative","legend":null,"scale":{"type":"threshold","domain":[-4,-3.6,-3.2,-2.8,-2.4,-2,-1.6,-1.2,-0.8,-0.4,0.4,0.8,1.2,1.6,2,2.4,2.8,3.2,3.6,4],"range":["#d5ffff","#b3b3d9","#8c6bb1","#6a2a96","#4b1c96","#2b53b8","#1a8adb","#00bfff","#30d2c4","#66e68a","#f4f4f4","#d0d818","#e6bf10","#ffa000","#ff7800","#ff5000","#ff1e00","#e60000","#c00000","#8c0000","#800000"]}}
}},
{"data":{"name":"vblue"},"mark":{"type":"rule","color":"#1010f0","strokeWidth":2.4},"encoding":{"x":{"field":"d","type":"quantitative","scale":{"domain":[0,90.67],"nice":false,"zero":false}},"y":{"field":"p","type":"quantitative","scale":{"type":"log","domain":[10,1000],"reverse":true,"nice":false}},"y2":{"field":"q"}}},
{"data":{"name":"vred"},"mark":{"type":"rule","color":"#ff2a00","strokeWidth":2.4},"encoding":{"x":{"field":"d","type":"quantitative","scale":{"domain":[0,90.67],"nice":false,"zero":false}},"y":{"field":"p","type":"quantitative","scale":{"type":"log","domain":[10,1000],"reverse":true,"nice":false}},"y2":{"field":"q"}}},
{"data":{"name":"hblue"},"transform":[{"lookup":"j","from":{"data":{"name":"bands"},"key":"j","fields":["c"]}}],"mark":{"type":"rule","color":"#1414e6","strokeWidth":1.8},"encoding":{"x":{"field":"a","type":"quantitative","scale":{"domain":[0,90.67],"nice":false,"zero":false}},"x2":{"field":"b"},"y":{"field":"c","type":"quantitative","scale":{"type":"log","domain":[10,1000],"reverse":true,"nice":false}}}},
{"data":{"name":"hred"},"transform":[{"lookup":"j","from":{"data":{"name":"bands"},"key":"j","fields":["c"]}}],"mark":{"type":"rule","color":"#ff3c00","strokeWidth":1.8},"encoding":{"x":{"field":"a","type":"quantitative","scale":{"domain":[0,90.67],"nice":false,"zero":false}},"x2":{"field":"b"},"y":{"field":"c","type":"quantitative","scale":{"type":"log","domain":[10,1000],"reverse":true,"nice":false}}}},
{"mark":{"type":"rule","color":"#666666","strokeWidth":2},"encoding":{"y":{"datum":10,"type":"quantitative","scale":{"type":"log","domain":[10,1000],"reverse":true,"nice":false}}}}
]},
{"width":991,"height":13,
"layer":[
{"data":{"name":"tipLow"},"mark":{"type":"area","color":"#d5ffff","stroke":"#333333","strokeWidth":1},"encoding":{"x":{"field":"i","type":"quantitative","scale":{"domain":[-1.23,20.15],"nice":false,"zero":false},"axis":null},"y":{"field":"lo","type":"quantitative","scale":{"domain":[0,1],"nice":false},"axis":null},"y2":{"field":"hi"}}},
{"data":{"name":"tipHigh"},"mark":{"type":"area","color":"#800000","stroke":"#333333","strokeWidth":1},"encoding":{"x":{"field":"i","type":"quantitative","scale":{"domain":[-1.23,20.15],"nice":false,"zero":false},"axis":null},"y":{"field":"lo","type":"quantitative","scale":{"domain":[0,1],"nice":false},"axis":null},"y2":{"field":"hi"}}},
{"data":{"name":"boxes"},"mark":{"type":"rect","stroke":"#111111","strokeWidth":2},"encoding":{"x":{"field":"i","type":"quantitative","scale":{"domain":[-1.23,20.15],"nice":false,"zero":false},"axis":null},"x2":{"field":"k"},"fill":{"field":"v","type":"quantitative","legend":null,"scale":{"type":"threshold","domain":[-4,-3.6,-3.2,-2.8,-2.4,-2,-1.6,-1.2,-0.8,-0.4,0.4,0.8,1.2,1.6,2,2.4,2.8,3.2,3.6,4],"range":["#d5ffff","#b3b3d9","#8c6bb1","#6a2a96","#4b1c96","#2b53b8","#1a8adb","#00bfff","#30d2c4","#66e68a","#f4f4f4","#d0d818","#e6bf10","#ffa000","#ff7800","#ff5000","#ff1e00","#e60000","#c00000","#8c0000","#800000"]}}}},
{"data":{"name":"labels"},"mark":{"type":"text","font":"DejaVu Sans","fontWeight":"bold","fontSize":15,"color":"#111","baseline":"middle","align":"center"},"encoding":{"x":{"field":"i","type":"quantitative","scale":{"domain":[-1.23,20.15],"nice":false,"zero":false},"axis":null},"y":{"datum":-0.65,"type":"quantitative","scale":{"domain":[0,1],"nice":false},"axis":null},"text":{"field":"t"}}}
]}
]}
